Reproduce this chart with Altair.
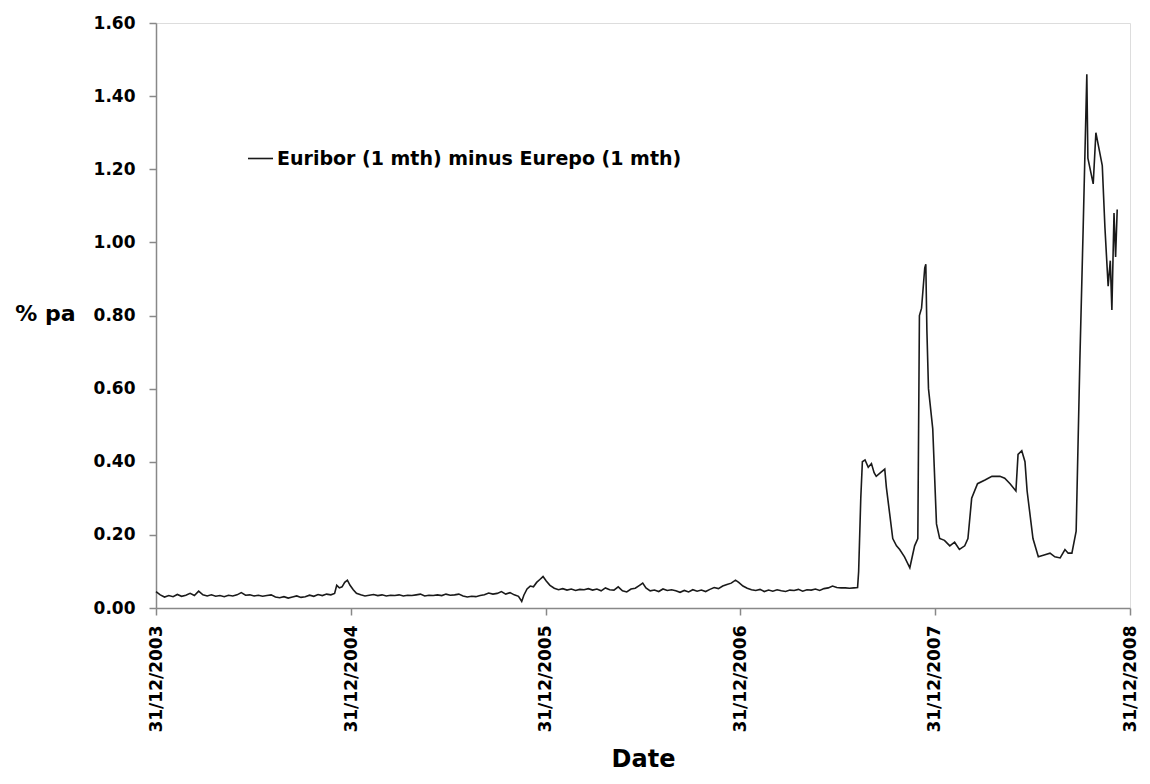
import altair as alt
import pandas as pd

dates = [
    "2003-12-31", "2004-01-08", "2004-01-16", "2004-01-24", "2004-02-01", "2004-02-09", "2004-02-17", "2004-02-25",
    "2004-03-04", "2004-03-12", "2004-03-20", "2004-03-28", "2004-04-05", "2004-04-13", "2004-04-21", "2004-04-29",
    "2004-05-07", "2004-05-15", "2004-05-23", "2004-05-31", "2004-06-08", "2004-06-16", "2004-06-24", "2004-07-02",
    "2004-07-10", "2004-07-18", "2004-07-26", "2004-08-03", "2004-08-11", "2004-08-19", "2004-08-27", "2004-09-04",
    "2004-09-12", "2004-09-20", "2004-09-28", "2004-10-06", "2004-10-14", "2004-10-22", "2004-10-30", "2004-11-07",
    "2004-11-15", "2004-11-23", "2004-11-30", "2004-12-04", "2004-12-09", "2004-12-14", "2004-12-19", "2004-12-24",
    "2004-12-29", "2005-01-04", "2005-01-10", "2005-01-18", "2005-01-26", "2005-02-03", "2005-02-11", "2005-02-19",
    "2005-02-27", "2005-03-07", "2005-03-15", "2005-03-23", "2005-03-31", "2005-04-08", "2005-04-16", "2005-04-24",
    "2005-05-02", "2005-05-10", "2005-05-18", "2005-05-26", "2005-06-03", "2005-06-11", "2005-06-19", "2005-06-27",
    "2005-07-05", "2005-07-13", "2005-07-21", "2005-07-29", "2005-08-06", "2005-08-14", "2005-08-22", "2005-08-30",
    "2005-09-07", "2005-09-15", "2005-09-23", "2005-10-01", "2005-10-09", "2005-10-17", "2005-10-25", "2005-11-02",
    "2005-11-10", "2005-11-16", "2005-11-20", "2005-11-26", "2005-12-02", "2005-12-08", "2005-12-14", "2005-12-20",
    "2005-12-26", "2006-01-01", "2006-01-08", "2006-01-16", "2006-01-24", "2006-02-01", "2006-02-09", "2006-02-17",
    "2006-02-25", "2006-03-05", "2006-03-13", "2006-03-21", "2006-03-29", "2006-04-06", "2006-04-14", "2006-04-22",
    "2006-04-30", "2006-05-08", "2006-05-16", "2006-05-24", "2006-06-01", "2006-06-09", "2006-06-17", "2006-06-25",
    "2006-07-01", "2006-07-07", "2006-07-15", "2006-07-23", "2006-07-31", "2006-08-08", "2006-08-16", "2006-08-24",
    "2006-09-01", "2006-09-09", "2006-09-17", "2006-09-25", "2006-10-03", "2006-10-11", "2006-10-19", "2006-10-27",
    "2006-11-04", "2006-11-12", "2006-11-20", "2006-11-28", "2006-12-06", "2006-12-14", "2006-12-22", "2006-12-28",
    "2007-01-05", "2007-01-13", "2007-01-21", "2007-01-29", "2007-02-06", "2007-02-14", "2007-02-22", "2007-03-02",
    "2007-03-10", "2007-03-18", "2007-03-26", "2007-04-03", "2007-04-11", "2007-04-19", "2007-04-27", "2007-05-05",
    "2007-05-13", "2007-05-21", "2007-05-29", "2007-06-06", "2007-06-14", "2007-06-22", "2007-06-30", "2007-07-08",
    "2007-07-16", "2007-07-24", "2007-08-01", "2007-08-08",
    "2007-08-10", "2007-08-14", "2007-08-17", "2007-08-22", "2007-08-28", "2007-09-03", "2007-09-08", "2007-09-12",
    "2007-09-20", "2007-09-28", "2007-10-01", "2007-10-07", "2007-10-13", "2007-10-20", "2007-10-26", "2007-11-04",
    "2007-11-14", "2007-11-23", "2007-11-29", "2007-12-02", "2007-12-06", "2007-12-12", "2007-12-14", "2007-12-16",
    "2007-12-19", "2007-12-27", "2008-01-03", "2008-01-09", "2008-01-18", "2008-01-28", "2008-02-06", "2008-02-15",
    "2008-02-25", "2008-03-02", "2008-03-09", "2008-03-20", "2008-04-03", "2008-04-16", "2008-05-01", "2008-05-10",
    "2008-05-20", "2008-05-31", "2008-06-04", "2008-06-11", "2008-06-17", "2008-06-21", "2008-07-02", "2008-07-12",
    "2008-07-23", "2008-08-03", "2008-08-12", "2008-08-22", "2008-08-31", "2008-09-06", "2008-09-13", "2008-09-21",
    "2008-09-28", "2008-10-04", "2008-10-11", "2008-10-13", "2008-10-23", "2008-10-28", "2008-11-01", "2008-11-09",
    "2008-11-14", "2008-11-20", "2008-11-24", "2008-11-27", "2008-12-01", "2008-12-04", "2008-12-07",
]

spread = [
    0.045, 0.036, 0.030, 0.034, 0.031, 0.037, 0.032, 0.035,
    0.040, 0.034, 0.046, 0.036, 0.033, 0.036, 0.032, 0.034,
    0.031, 0.035, 0.033, 0.036, 0.042, 0.035, 0.036, 0.033,
    0.035, 0.032, 0.034, 0.036, 0.030, 0.028, 0.031, 0.027,
    0.030, 0.033, 0.029, 0.031, 0.035, 0.032, 0.037, 0.034,
    0.038, 0.036, 0.040, 0.062, 0.055, 0.058, 0.070, 0.076,
    0.062, 0.050, 0.040, 0.036, 0.033, 0.035, 0.037, 0.034,
    0.036, 0.033, 0.035, 0.034, 0.036, 0.033, 0.035, 0.034,
    0.036, 0.038, 0.033, 0.035, 0.034, 0.036, 0.034, 0.038,
    0.035, 0.036, 0.038, 0.033, 0.030, 0.032, 0.031, 0.034,
    0.036, 0.041, 0.038, 0.040, 0.045, 0.038, 0.042, 0.036,
    0.032, 0.018, 0.035, 0.052, 0.060, 0.058, 0.070, 0.078,
    0.086, 0.074, 0.062, 0.054, 0.050, 0.053, 0.049, 0.052,
    0.048, 0.051, 0.050, 0.053, 0.049, 0.052, 0.047, 0.055,
    0.050, 0.049, 0.058, 0.047, 0.044, 0.052, 0.054, 0.062,
    0.068, 0.055, 0.047, 0.049, 0.045, 0.052, 0.048, 0.050,
    0.047, 0.043, 0.048, 0.044, 0.050, 0.046, 0.049, 0.045,
    0.051, 0.056, 0.053, 0.060, 0.064, 0.068, 0.076, 0.070,
    0.060, 0.054, 0.050, 0.048, 0.051, 0.045, 0.049, 0.046,
    0.050, 0.047, 0.045, 0.049, 0.048, 0.051, 0.046, 0.050,
    0.049, 0.052, 0.048, 0.053, 0.055, 0.060, 0.056, 0.055,
    0.055, 0.054, 0.055, 0.056,
    0.100, 0.300, 0.400, 0.405, 0.385, 0.395, 0.370, 0.360,
    0.370, 0.380, 0.330, 0.260, 0.190, 0.170, 0.160, 0.140,
    0.110, 0.170, 0.190, 0.800, 0.820, 0.930, 0.940, 0.760,
    0.600, 0.490, 0.230, 0.190, 0.185, 0.170, 0.180, 0.160,
    0.170, 0.190, 0.300, 0.340, 0.350, 0.360, 0.360, 0.355,
    0.340, 0.320, 0.420, 0.430, 0.400, 0.320, 0.190, 0.140,
    0.145, 0.150, 0.140, 0.137, 0.160, 0.150, 0.150, 0.210,
    0.680, 1.030, 1.460, 1.230, 1.160, 1.300, 1.270, 1.210,
    1.040, 0.880, 0.950, 0.815, 1.080, 0.960, 1.090,
]

series_name = "Euribor (1 mth) minus Eurepo (1 mth)"
tick_dates = ["2003-12-31", "2004-12-31", "2005-12-31", "2006-12-31", "2007-12-31", "2008-12-31"]
y_ticks = [0.0, 0.2, 0.4, 0.6, 0.8, 1.0, 1.2, 1.4, 1.6]

df = pd.DataFrame({"date": dates, "value": spread, "series": series_name})

FONT = "DejaVu Sans"
AXIS_GREY = "#888888"

x_axis = alt.Axis(
    title="Date",
    values=[pd.Timestamp(d).isoformat() for d in tick_dates],
    format="%d/%m/%Y",
    labelAngle=-90,
    labelFont=FONT, labelFontWeight="bold", labelFontSize=17, labelColor="#000000",
    labelPadding=10,
    tickSize=7, tickColor=AXIS_GREY, tickWidth=1.5,
    domainColor=AXIS_GREY, domainWidth=1.5,
    grid=False,
    titleFont=FONT, titleFontWeight="bold", titleFontSize=24, titleColor="#000000",
    titleX=487, titleY=158, titleBaseline="alphabetic", titleAlign="center",
)

y_axis = alt.Axis(
    title="% pa",
    values=y_ticks,
    format=".2f",
    labelFont=FONT, labelFontWeight="bold", labelFontSize=17, labelColor="#000000",
    labelPadding=14,
    tickSize=7, tickColor=AXIS_GREY, tickWidth=1.5,
    domainColor=AXIS_GREY, domainWidth=1.5,
    grid=False,
    titleFont=FONT, titleFontWeight="bold", titleFontSize=22, titleColor="#000000",
    titleAngle=0, titleX=-111, titleY=290, titleAlign="center", titleBaseline="middle",
)

chart = (
    alt.Chart(df)
    .mark_line(strokeWidth=1.6, interpolate="linear")
    .encode(
        x=alt.X("date:T", axis=x_axis,
                scale=alt.Scale(domain=[pd.Timestamp("2003-12-31").isoformat(),
                                        pd.Timestamp("2008-12-31").isoformat()], nice=False)),
        y=alt.Y("value:Q", axis=y_axis, scale=alt.Scale(domain=[0, 1.6], nice=False)),
        color=alt.Color("series:N",
                        scale=alt.Scale(range=["#1a1a1a"]),
                        legend=alt.Legend(
                            title=None, orient="none", legendX=91, legendY=122,
                            symbolType="stroke", symbolSize=625, symbolStrokeWidth=1.6,
                            labelFont=FONT, labelFontWeight="bold", labelFontSize=19,
                            labelColor="#000000", labelOffset=3, labelLimit=0,
                        )),
    )
    .properties(
        width=974, height=585,
        autosize=alt.AutoSizeParams(type="none"),
        padding={"left": 148, "top": 15, "right": 10, "bottom": 168},
    )
    .configure_view(stroke=None)
    .configure(background="white")
)

chart.save("out.html", embed_options={"renderer": "svg", "actions": False})
